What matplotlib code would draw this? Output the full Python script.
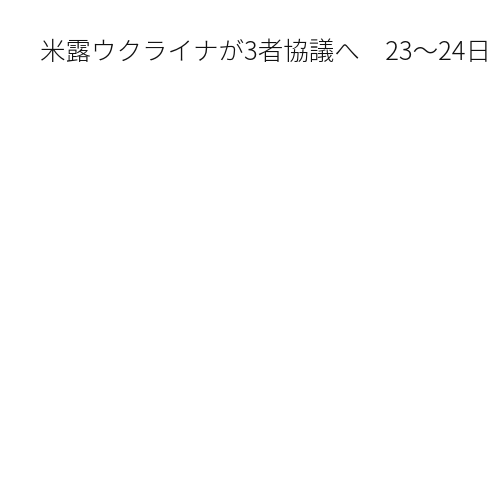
import matplotlib
matplotlib.use("Agg")
import matplotlib.pyplot as plt

plt.rcParams['font.family'] = ['Noto Sans CJK JP', 'DejaVu Sans']

title_text = "米露ウクライナが3者協議へ　23～24日"

fig = plt.figure(figsize=(5, 5), dpi=100)
fig.patch.set_facecolor('white')
fig.text(40 / 500, 1 - 39 / 500, title_text, fontsize=18.4, color='#111111',
         ha='left', va='top', fontweight='light')
fig.savefig("out.png", dpi=100, facecolor='white')
